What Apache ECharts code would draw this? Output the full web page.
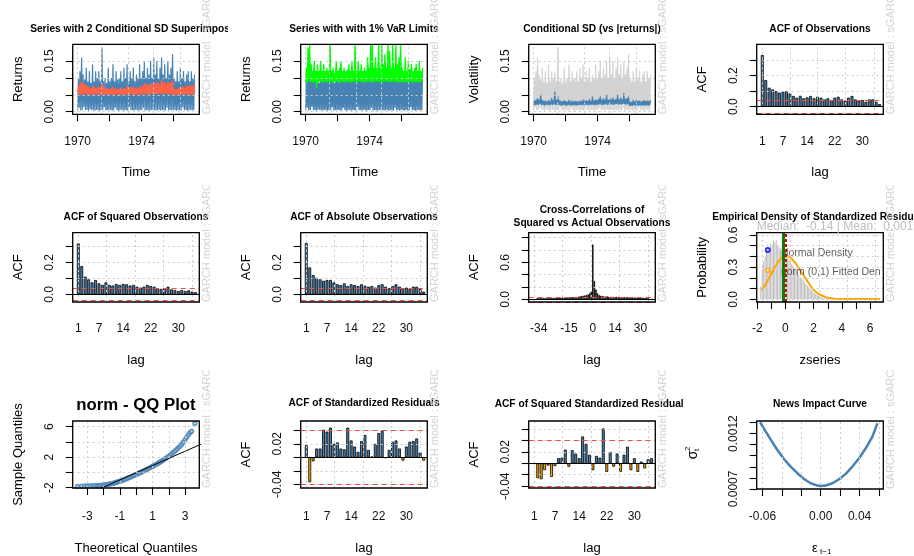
<!DOCTYPE html>
<html><head><meta charset="utf-8">
<script src="https://cdn.jsdelivr.net/npm/echarts@6/dist/echarts.min.js"></script>
<style>
html,body{margin:0;padding:0;background:#fff;width:914px;height:556px;overflow:hidden;}
.cell{position:absolute;overflow:hidden;}
</style></head><body>
<script>
// ---------------- DATA ----------------
// time series (values alternate low/high per pair, 75 pairs)
const retLow = [0.004,0.012,0.003,0.006,0.014,0.004,0.005,0.003,0.007,0.004,0.005,0.003,0.006,0.004,0.003,
 0.005,0.004,0.013,0.003,0.005,0.004,0.006,0.003,0.004,0.012,0.005,0.003,0.004,0.006,0.003,
 0.005,0.004,0.003,0.014,0.004,0.005,0.003,0.006,0.004,0.003,0.005,0.004,0.012,0.003,0.005,
 0.004,0.003,0.006,0.004,0.005,0.003,0.004,0.006,0.003,0.005,0.004,0.003,0.012,0.004,0.005,
 0.003,0.006,0.004,0.003,0.005,0.004,0.003,0.013,0.004,0.005,0.003,0.004,0.006,0.003,0.005];
const retHigh = [0.10,0.12,0.16,0.11,0.095,0.13,0.09,0.12,0.085,0.14,0.09,0.12,0.10,0.12,0.09,
 0.19,0.09,0.10,0.085,0.13,0.09,0.10,0.14,0.09,0.12,0.095,0.10,0.12,0.09,0.13,
 0.10,0.14,0.09,0.12,0.10,0.13,0.09,0.11,0.10,0.14,0.10,0.12,0.15,0.10,0.13,
 0.11,0.15,0.10,0.16,0.11,0.15,0.10,0.13,0.16,0.11,0.14,0.10,0.15,0.11,0.13,
 0.17,0.10,0.09,0.12,0.09,0.13,0.10,0.12,0.09,0.11,0.12,0.09,0.12,0.10,0.11];
const sd2Low = [0.05,0.052,0.049,0.051,0.05,0.053,0.049,0.05,0.052,0.05,0.049,0.051,0.05,0.052,0.05,
 0.049,0.051,0.05,0.052,0.049,0.05,0.051,0.05,0.049,0.052,0.05,0.051,0.049,0.05,0.052,
 0.05,0.049,0.051,0.05,0.052,0.05,0.049,0.051,0.05,0.052,0.049,0.05,0.053,0.051,0.05,
 0.052,0.05,0.054,0.051,0.053,0.05,0.052,0.055,0.051,0.053,0.05,0.054,0.052,0.051,0.053,
 0.05,0.049,0.05,0.051,0.049,0.05,0.052,0.05,0.049,0.051,0.05,0.052,0.05,0.049,0.051];
const sd2High = [0.075,0.085,0.09,0.085,0.08,0.078,0.075,0.072,0.07,0.078,0.074,0.07,0.072,0.075,0.07,
 0.085,0.078,0.072,0.068,0.07,0.066,0.07,0.074,0.068,0.07,0.066,0.068,0.072,0.066,0.07,
 0.068,0.078,0.072,0.074,0.07,0.076,0.07,0.072,0.068,0.076,0.072,0.078,0.085,0.08,0.082,
 0.078,0.085,0.08,0.088,0.082,0.09,0.084,0.082,0.095,0.086,0.088,0.082,0.09,0.085,0.088,
 0.092,0.07,0.065,0.068,0.07,0.075,0.072,0.075,0.07,0.078,0.074,0.08,0.076,0.078,0.08];
const varLow = [0.088,0.086,0.09,0.087,0.089,0.086,0.088,0.07,0.087,0.089,0.086,0.088,0.087,0.09,0.086,
 0.088,0.087,0.089,0.086,0.088,0.09,0.087,0.086,0.089,0.088,0.086,0.09,0.087,0.088,0.086,
 0.089,0.087,0.088,0.086,0.09,0.088,0.087,0.089,0.086,0.088,0.09,0.087,0.088,0.086,0.089,
 0.088,0.09,0.087,0.089,0.086,0.088,0.09,0.087,0.089,0.088,0.086,0.09,0.088,0.087,0.089,
 0.086,0.088,0.087,0.089,0.086,0.088,0.087,0.09,0.086,0.088,0.087,0.089,0.086,0.088,0.087];
const varHigh = [0.13,0.19,0.20,0.14,0.12,0.15,0.12,0.14,0.12,0.15,0.12,0.14,0.12,0.13,0.12,
 0.20,0.12,0.13,0.115,0.15,0.12,0.13,0.15,0.12,0.13,0.12,0.125,0.14,0.12,0.15,
 0.12,0.20,0.12,0.15,0.12,0.14,0.12,0.13,0.12,0.16,0.13,0.20,0.20,0.13,0.16,
 0.13,0.20,0.13,0.20,0.14,0.17,0.13,0.20,0.18,0.13,0.20,0.13,0.20,0.14,0.16,
 0.20,0.13,0.12,0.16,0.12,0.15,0.125,0.14,0.12,0.13,0.14,0.12,0.15,0.12,0.13];
const sigLow = [0.02,0.019,0.021,0.02,0.022,0.019,0.02,0.018,0.021,0.02,0.019,0.021,0.02,0.022,0.02,
 0.021,0.02,0.019,0.018,0.02,0.019,0.018,0.02,0.019,0.018,0.019,0.02,0.018,0.019,0.02,
 0.019,0.02,0.019,0.021,0.02,0.019,0.02,0.021,0.02,0.019,0.021,0.02,0.022,0.021,0.02,
 0.021,0.022,0.02,0.021,0.022,0.021,0.02,0.022,0.023,0.021,0.022,0.021,0.023,0.022,0.021,
 0.022,0.018,0.017,0.018,0.019,0.018,0.019,0.018,0.019,0.018,0.019,0.018,0.019,0.018,0.019];
const sigHigh = [0.033,0.035,0.04,0.036,0.05,0.034,0.032,0.033,0.03,0.034,0.032,0.04,0.033,0.06,0.035,
 0.045,0.033,0.032,0.03,0.034,0.031,0.03,0.035,0.03,0.033,0.03,0.032,0.031,0.03,0.033,
 0.031,0.036,0.032,0.034,0.031,0.037,0.032,0.045,0.033,0.036,0.034,0.038,0.045,0.035,0.04,
 0.036,0.05,0.035,0.04,0.036,0.042,0.035,0.038,0.05,0.037,0.042,0.036,0.055,0.038,0.04,
 0.045,0.03,0.028,0.035,0.03,0.034,0.031,0.033,0.03,0.032,0.034,0.031,0.033,0.032,0.034];
const tStart = 1970.0, tEnd = 1977.3;

// ACF values, lags 1..35
const acfObs = [0.332,0.171,0.122,0.111,0.10,0.09,0.096,0.10,0.086,0.069,0.058,0.07,0.054,0.06,0.069,0.054,0.064,0.058,0.047,0.054,0.043,0.058,0.064,0.047,0.039,0.058,0.069,0.047,0.039,0.043,0.032,0.047,0.047,0.032,0.017];
const acfSq = [0.32,0.178,0.111,0.094,0.075,0.09,0.069,0.059,0.075,0.059,0.055,0.065,0.059,0.065,0.063,0.055,0.059,0.048,0.042,0.048,0.059,0.052,0.048,0.038,0.034,0.038,0.048,0.031,0.027,0.021,0.027,0.021,0.025,0.017,0.013];
const acfAbs = [0.323,0.169,0.121,0.104,0.094,0.085,0.09,0.09,0.075,0.063,0.058,0.069,0.052,0.063,0.058,0.052,0.063,0.054,0.048,0.052,0.042,0.058,0.063,0.048,0.038,0.052,0.063,0.048,0.038,0.042,0.033,0.048,0.048,0.033,0.017];
const acfRes = [0.018,-0.037,-0.006,0.013,0.013,0.041,0.038,0.044,0.02,0.022,0.013,0.012,0.044,0.025,0.016,0.008,0.024,0.033,0.011,0.001,0.02,0.036,0.04,-0.001,0.011,0.023,0.025,0.013,-0.005,0.016,0.023,0.024,0.028,0.007,-0.005];
const acfSqRes = [-0.001,-0.026,-0.028,-0.012,-0.004,-0.024,-0.005,0.009,0.01,0.024,-0.006,0.023,0.017,0.009,0.047,0.034,0.015,-0.012,0.013,0.01,0.061,-0.015,0.02,-0.006,0.017,-0.015,0.015,0.029,-0.012,0.009,-0.015,0.003,-0.009,0.007,0.009];
const acfLags = Array.from({length:35},(_,i)=>i+1);
// cross correlations, lags -35..35
const xcorr = [0.02,0.025,0.02,0.018,0.022,0.02,0.025,0.022,0.02,0.024,
 0.025,0.022,0.028,0.025,0.03,0.027,0.03,0.028,0.032,0.03,
 0.035,0.032,0.038,0.035,0.04,0.042,0.045,0.05,0.055,0.06,
 0.065,0.07,0.08,0.1,0.13,
 0.89,
 0.3,0.16,0.1,0.07,0.06,
 0.055,0.05,0.045,0.05,0.042,0.04,0.045,0.04,0.038,0.04,
 0.036,0.038,0.035,0.034,0.036,0.033,0.035,0.032,0.03,0.032,
 0.03,0.028,0.03,0.027,0.028,0.025,0.026,0.024,0.022,0.02];
const xcorrLags = Array.from({length:71},(_,i)=>i-35);
const ciObs = 0.035, ciRes = 0.038;

// empirical density
const histMid = [-1.75,-1.65,-1.55,-1.45,-1.35,-1.25,-1.15,-1.05,-0.95,-0.85,-0.75,-0.65,-0.55,-0.45,-0.35,-0.25,-0.15,-0.05,0.05,0.15,0.25,0.35,0.45,0.55,0.65,0.75,0.85,0.95,1.05,1.15,1.25,1.35,1.45,1.55,1.65,1.75,1.85,1.95,2.05,2.15,2.25,2.35,2.45,2.55,2.65,2.75,2.85,2.95];
const histDen = [0.12,0.28,0.35,0.40,0.46,0.49,0.47,0.52,0.50,0.55,0.53,0.55,0.50,0.48,0.47,0.45,0.44,0.42,0.40,0.39,0.37,0.35,0.33,0.31,0.29,0.27,0.25,0.23,0.21,0.19,0.18,0.16,0.14,0.13,0.11,0.10,0.085,0.07,0.06,0.05,0.04,0.03,0.025,0.02,0.015,0.01,0.008,0.005];
const densX = [-1.72,-1.5,-1.2,-1.0,-0.7,-0.4,-0.2,0,0.2,0.4,0.7,1.0,1.3,1.5,1.8,2.0,2.3,2.5,2.8,3.0,3.5,4.0,5.0,6.0,6.7];
const densY = [0.085,0.12,0.19,0.24,0.31,0.37,0.395,0.40,0.40,0.385,0.34,0.28,0.22,0.18,0.12,0.087,0.055,0.04,0.022,0.015,0.006,0.003,0.002,0.002,0.002];
const medianZ = -0.14, meanZ = 0.0;

// QQ plot
const qqX = [-3.6,-3.35,-3.15,-3.0,-2.85,-2.7,-2.55,-2.4,-2.3,-2.2,-2.1,-2.0,-1.9,-1.8,-1.7,-1.6,-1.5,-1.4,-1.3,-1.2,-1.1,-1.0,-0.9,-0.8,-0.7,-0.6,-0.5,-0.4,-0.3,-0.2,-0.1,0,0.1,0.2,0.3,0.4,0.5,0.6,0.7,0.8,0.9,1.0,1.1,1.2,1.3,1.4,1.5,1.6,1.7,1.8,1.9,2.0,2.1,2.2,2.3,2.4,2.5,2.6,2.7,2.8,2.9,3.0,3.1,3.2,3.3,3.4,3.6];
const qqY = [-1.83,-1.8,-1.79,-1.78,-1.77,-1.76,-1.75,-1.74,-1.73,-1.71,-1.69,-1.66,-1.63,-1.6,-1.56,-1.52,-1.47,-1.42,-1.36,-1.3,-1.23,-1.16,-1.08,-1.0,-0.92,-0.83,-0.74,-0.65,-0.56,-0.46,-0.37,-0.27,-0.17,-0.07,0.03,0.13,0.23,0.34,0.45,0.56,0.67,0.78,0.9,1.02,1.14,1.27,1.4,1.54,1.68,1.82,1.97,2.13,2.3,2.48,2.66,2.85,3.05,3.25,3.45,3.7,3.98,4.3,4.6,4.9,5.2,5.4,6.42];
const qqLineX = [-2.2, 4.0], qqLineY = [-2.12, 3.72];

// news impact curve
const nicX = [-0.0624,-0.0566,-0.0508,-0.0446,-0.0377,-0.0309,-0.024,-0.0172,-0.0103,-0.0034,0,0.0051,0.012,0.0189,0.0257,0.0326,0.0395,0.0463,0.0532,0.0583];
const nicY = [0.001302,0.001218,0.001137,0.001052,0.000968,0.000902,0.000842,0.00079,0.000751,0.00073,0.000727,0.00073,0.000751,0.000787,0.000836,0.000902,0.000977,0.001067,0.001173,0.001293];

// ---------------- HELPERS ----------------
const FONT = '"Liberation Sans", Arial, Helvetica, sans-serif';
const STEEL = '#4682B4';
const colL=[0,228,456,684], colW=[228,228,228,230], rowT=[0,185,370], rowH=[185,185,186];
for(let i=0;i<12;i++){
  const d=document.createElement('div'); d.id='c'+i; d.className='cell';
  const r=Math.floor(i/4), c=i%4;
  d.style.left=colL[c]+'px'; d.style.top=rowT[r]+'px'; d.style.width=colW[c]+'px'; d.style.height=rowH[r]+'px';
  document.body.appendChild(d);
}
const f1=v=>v.toFixed(1), f2=v=>v.toFixed(2), f4=v=>v.toFixed(4), fi=v=>String(Math.round(v));
function interleave(lo,hi){const o=[];for(let k=0;k<lo.length;k++){o.push(lo[k],hi[k]);}return o;}
function tsData(lo,hi){const v=interleave(lo,hi);const n=v.length;return v.map((y,i)=>[tStart+i*(tEnd-tStart)/(n-1),y]);}
const zip=(a,b)=>a.map((x,i)=>[x,b[i]]);
function lineS(data,color,w,z){return {type:'line',data,symbol:'none',showSymbol:false,lineStyle:{color,width:w||1},itemStyle:{color},z:z||2,silent:true,clip:true,emphasis:{disabled:true},animation:false};}
function barS(data,colors,w){return {type:'bar',data:data.map(([x,y])=>({value:[x,y],itemStyle:{color:y<0?colors[1]:colors[0]}})),barWidth:w,itemStyle:{borderColor:'#000',borderWidth:0.8},silent:true,z:2,animation:false,emphasis:{disabled:true}};}
function mlS(items,z){return {type:'line',data:[],silent:true,z:z||5,animation:false,markLine:{silent:true,animation:false,symbol:['none','none'],label:{show:false},emphasis:{disabled:true},data:items}};}
function axis(a,isY){
  return {type:'value',min:a.min,max:a.max,position:isY?'left':'bottom',axisLine:{show:false,onZero:false},splitLine:{show:false},
    axisTick:{show:a.tick!==false,inside:false,customValues:a.ticks||[],length:7,lineStyle:{color:'#000',width:1.1}},
    axisLabel:{show:true,inside:false,customValues:a.labels,margin:a.margin,rotate:isY?90:0,fontSize:12,fontFamily:FONT,color:'#111',formatter:a.fmt||fi}};
}
function txt(x,y,text,font,fill,align,valign,rot){return {type:'text',x,y,rotation:rot||0,z:100,silent:true,style:{text,font,fill,textAlign:align,textVerticalAlign:valign,align,verticalAlign:valign}};}
function build(idx,c){
  const el=document.getElementById('c'+idx);
  const chart=echarts.init(el,null,{renderer:'canvas'});
  const b=c.box, cx=(b.l+b.r)/2, cy=(b.t+b.b)/2;
  const G=[];
  G.push({type:'rect',z:100,silent:true,shape:{x:b.l,y:b.t,width:b.r-b.l,height:b.b-b.t},style:{fill:'none',stroke:'#000',lineWidth:1.3}});
  c.title.forEach(t=>G.push(txt(cx,t.y,t.text,`bold ${t.size||10.2}px ${FONT}`,'#000','center','middle')));
  if(c.xname) G.push(txt(cx,c.xname.y,c.xname.text,`13px ${FONT}`,'#000','center','middle'));
  if(c.yname) G.push(txt(c.yname.x,cy,c.yname.text,`13px ${FONT}`,'#000','center','middle',Math.PI/2));
  G.push(txt(207.3,b.b,'GARCH model : sGARCH',`11px ${FONT}`,'#d3d3d3','left','middle',Math.PI/2));
  (c.extra||[]).forEach(e=>G.push(e));
  const grid=mlS([...c.gx.map(v=>({xAxis:v})),...c.gy.map(v=>({yAxis:v}))],5);
  grid.markLine.lineStyle={color:'#cccccc',type:[2,3],width:1};
  const series=[...c.series,grid,...(c.post||[])];
  chart.setOption({animation:false,
    grid:{left:b.l,top:b.t,width:b.r-b.l,height:b.b-b.t,show:false,containLabel:false},
    xAxis:axis(c.x,false),yAxis:axis(c.y,true),series,graphic:{elements:G}});
}
function ciLines(ci){return mlS([
  {yAxis:0,lineStyle:{color:'#000',type:'solid',width:1}},
  {yAxis:ci,lineStyle:{color:'#f0503c',type:[5,4],width:1.2}},
  {yAxis:-ci,lineStyle:{color:'#f0503c',type:[5,4],width:1.2}}],6);}

// ---------------- PANELS ----------------
const R1={t:44.3,b:114.3}, R2={t:47.7,b:117}, R3={t:51,b:118};
const tsX={min:1969.69,max:1977.6,ticks:[1970,1972,1974,1976],labels:[1970,1974],margin:21};
const tsY={min:-0.0077,max:0.1994,ticks:[0,0.05,0.1,0.15],labels:[0,0.15],fmt:f2,margin:17.5};
const tsGX=[1970,1971.5,1973.16,1974.72,1976.39], tsGY=[0,0.05,0.1,0.15];
const retData=tsData(retLow,retHigh);

build(0,{box:{l:72.7,r:199.3,...R1},x:tsX,y:tsY,gx:tsGX,gy:tsGY,
  title:[{text:'Series with 2 Conditional SD Superimposed',y:29.3}],xname:{text:'Time',y:172.7},yname:{text:'Returns',x:18.3},
  series:[lineS(retData,STEEL,1.2),lineS(tsData(sd2Low,sd2High),'#FF6347',1.3,3)]});
build(1,{box:{l:72.7,r:199.3,...R1},x:tsX,y:tsY,gx:tsGX,gy:tsGY,
  title:[{text:'Series with with 1% VaR Limits',y:29.3}],xname:{text:'Time',y:172.7},yname:{text:'Returns',x:18.3},
  series:[lineS(retData,STEEL,1.3),lineS(tsData(varLow,varHigh),'#00FF00',1.3,3)]});
build(2,{box:{l:72.7,r:199.3,...R1},x:tsX,y:tsY,gx:tsGX,gy:tsGY,
  title:[{text:'Conditional SD (vs |returns|)',y:29.3}],xname:{text:'Time',y:172.7},yname:{text:'Volatility',x:18.3},
  series:[lineS(retData,'#D3D3D3',1.2),lineS(tsData(sigLow,sigHigh),STEEL,1.2,3)]});

const acfX1={min:-0.62,max:36.07,tick:false,labels:[1,7,14,22,30],margin:21};
build(3,{box:{l:72.7,r:199.3,...R1},x:acfX1,y:{min:-0.0488,max:0.4008,ticks:[0,0.1,0.2,0.3],labels:[0,0.2],fmt:f1,margin:17.5},
  gx:[1,9.03,16.94,25.17,33.43],gy:[0,0.1,0.2,0.3],
  title:[{text:'ACF of Observations',y:29.3}],xname:{text:'lag',y:172.7},yname:{text:'ACF',x:18.3},
  series:[barS(zip(acfLags,acfObs),[STEEL,'#FFA500'],2.9)],post:[ciLines(ciObs)]});

const acfX2={min:-0.62,max:36.07,tick:false,labels:[1,7,14,22,30],margin:20.7};
const acfY2={min:-0.0484,max:0.3874,ticks:[0,0.1,0.2,0.3],labels:[0,0.2],fmt:f1,margin:17.5};
const acfGX2=[1,9.2,17.4,25.6,33.9];
build(4,{box:{l:72.7,r:199.3,...R2},x:acfX2,y:acfY2,gx:acfGX2,gy:[0,0.1,0.2,0.3],
  title:[{text:'ACF of Squared Observations',y:32.3}],xname:{text:'lag',y:175},yname:{text:'ACF',x:18.3},
  series:[barS(zip(acfLags,acfSq),[STEEL,'#FFA500'],2.9)],post:[ciLines(ciObs)]});
build(5,{box:{l:72.7,r:199.3,...R2},x:acfX2,y:acfY2,gx:acfGX2,gy:[0,0.1,0.2,0.3],
  title:[{text:'ACF of Absolute Observations',y:32.3}],xname:{text:'lag',y:175},yname:{text:'ACF',x:18.3},
  series:[barS(zip(acfLags,acfAbs),[STEEL,'#FFA500'],2.9)],post:[ciLines(ciObs)]});
build(6,{box:{l:72.7,r:199.3,...R2},x:{min:-40.3,max:39.3,tick:false,labels:[-34,-15,0,14,30],margin:20.7},
  y:{min:-0.0438,max:1.08,ticks:[0,0.2,0.4,0.6,0.8,1.0],labels:[0,0.6],fmt:f1,margin:17.5},
  gx:[-36.8,-19.4,-1.1,16.7,34.9],gy:[0,0.2,0.4,0.6,0.8,1.0],
  title:[{text:'Cross-Correlations of',y:25},{text:'Squared vs Actual Observations',y:38.3}],xname:{text:'lag',y:175},yname:{text:'ACF',x:18.3},
  series:[barS(zip(xcorrLags,xcorr),[STEEL,'#FFA500'],1.4)],post:[ciLines(ciObs)]});

// density panel
const legendLabel=(x,y,text)=>({type:'scatter',data:[[x,y]],symbolSize:1,itemStyle:{color:'rgba(0,0,0,0)'},z:3,silent:true,
  label:{show:true,position:'right',distance:0,formatter:text,color:'#333',fontSize:10.5,fontFamily:FONT,width:102,overflow:'truncate',ellipsis:''}});
const vline=(v,color,w,type)=>{const s=mlS([{xAxis:v}],4);s.markLine.lineStyle={color,width:w,type};return s;};
build(7,{box:{l:72.7,r:199.3,...R2},x:{min:-2.04,max:6.94,ticks:[-2,-1,0,1,2,3,4,5,6],labels:[-2,0,2,4,6],margin:20.7},
  y:{min:-0.025,max:0.6207,ticks:[0,0.1,0.2,0.3,0.4,0.5,0.6],labels:[0,0.3,0.6],fmt:f1,margin:17.5},
  gx:[-1.65,0.37,2.38,4.39,6.4],gy:[0,0.1,0.2,0.3,0.4,0.5,0.6],
  title:[{text:'Empirical Density of Standardized Residuals',y:32.3}],xname:{text:'zseries',y:175},yname:{text:'Probability',x:18.3},
  extra:[txt(72.7,41.7,'Median:  -0.14 | Mean:  0.001784',`12px ${FONT}`,'#bdbdbd','left','middle')],
  series:[
    {type:'bar',data:zip(histMid,histDen),barWidth:1,itemStyle:{color:'#bdbdbd'},silent:true,z:2,animation:false},
    lineS(zip(densX,densY),'#FFA500',2,3),
    legendLabel(-0.36,0.435,'Normal Density'),
    legendLabel(-0.36,0.255,'norm (0,1) Fitted Density'),
    {type:'scatter',data:[[-1.25,0.46]],symbol:'emptyCircle',symbolSize:4,itemStyle:{color:'#0000FF',borderWidth:1},z:3,silent:true},
    {type:'scatter',data:[[-1.25,0.27]],symbol:'emptyCircle',symbolSize:4,itemStyle:{color:'#FFA500',borderWidth:1},z:3,silent:true}
  ],
  post:[vline(medianZ,'#0a7d0a',3,'solid'),vline(meanZ,'#e00000',2,[3,2])]});

// row 3
build(8,{box:{l:72.7,r:199.3,...R3},x:{min:-3.89,max:3.87,ticks:[-3,-2,-1,0,1,2,3],labels:[-3,-1,1,3],margin:22.4},
  y:{min:-2.04,max:6.74,ticks:[-2,0,2,4,6],labels:[-2,2,6],margin:17.5},
  gx:[-3,-2,-1,0,1,2,3],gy:[-2,0,2,4,6],
  title:[{text:'norm - QQ Plot',y:35,size:16.8}],xname:{text:'Theoretical Quantiles',y:178.3},yname:{text:'Sample Quantiles',x:18.3},
  series:[{type:'scatter',data:zip(qqX,qqY),symbol:'emptyCircle',symbolSize:3.5,itemStyle:{color:STEEL,borderWidth:0.8},z:2,silent:true,animation:false},
    lineS(zip(qqLineX,qqLineY),'#000',1,3)]});
const acfX3={min:-0.62,max:36.07,tick:false,labels:[1,7,14,22,30],margin:22.4};
build(9,{box:{l:72.7,r:199.3,...R3},x:acfX3,
  y:{min:-0.0455,max:0.0538,ticks:[-0.04,-0.02,0,0.02,0.04],labels:[-0.04,0.02],fmt:f2,margin:17.5},
  gx:acfGX2,gy:[-0.04,-0.02,0,0.02,0.04],
  title:[{text:'ACF of Standardized Residuals',y:33.3}],xname:{text:'lag',y:178.3},yname:{text:'ACF',x:18.3},
  series:[barS(zip(acfLags,acfRes),[STEEL,'#FFA500'],2.9)],post:[ciLines(ciRes)]});
build(10,{box:{l:72.7,r:199.3,...R3},x:acfX3,
  y:{min:-0.0432,max:0.074,ticks:[-0.04,-0.02,0,0.02,0.04,0.06],labels:[-0.04,0.02],fmt:f2,margin:17.5},
  gx:acfGX2,gy:[-0.04,-0.02,0,0.02,0.04,0.06],
  title:[{text:'ACF of Squared Standardized Residuals',y:34.3}],xname:{text:'lag',y:178.3},yname:{text:'ACF',x:18.3},
  series:[barS(zip(acfLags,acfSqRes),[STEEL,'#FFA500'],2.9)],post:[ciLines(ciRes)]});
build(11,{box:{l:72.7,r:199.3,t:51,b:119},x:{min:-0.0659,max:0.0644,ticks:[-0.06,-0.04,-0.02,0,0.02,0.04,0.06],labels:[-0.06,0,0.04],fmt:f2,margin:22},
  y:{min:0.000699,max:0.001314,ticks:[0.0007,0.0008,0.0009,0.0010,0.0011,0.0012,0.0013],labels:[0.0007,0.0012],fmt:f4,margin:17.5},
  gx:[-0.06,-0.04,-0.02,0,0.02,0.04,0.06],gy:[0.0007,0.0008,0.0009,0.0010,0.0011,0.0012,0.0013],
  title:[{text:'News Impact Curve',y:34.3}],
  extra:[
    {type:'group',x:131,y:178.3,children:[txt(0,0,'ε',`13px ${FONT}`,'#000','center','middle'),txt(5,3,'t−1',`8px ${FONT}`,'#000','left','middle')]},
    {type:'group',x:9,y:85,rotation:Math.PI/2,children:[txt(0,0,'σ',`14px ${FONT}`,'#000','center','middle'),txt(4,-5,'2',`8px ${FONT}`,'#000','left','middle'),txt(4,4,'t',`8px ${FONT}`,'#000','left','middle')]}
  ],
  series:[lineS(zip(nicX,nicY),STEEL,2.5,3)]});
</script>
</body></html>
